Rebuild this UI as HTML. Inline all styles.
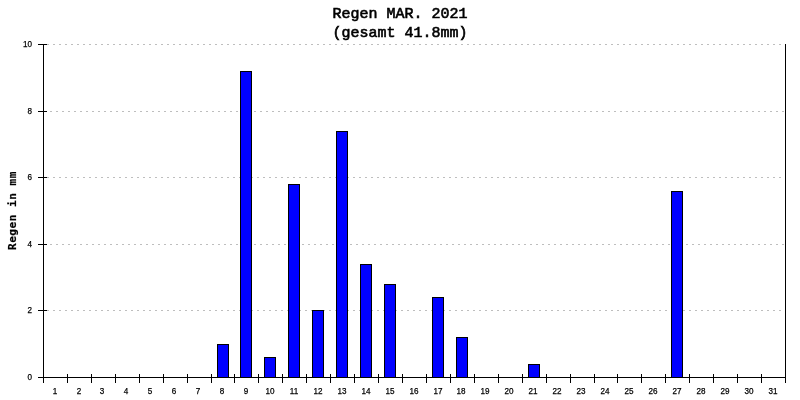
<!DOCTYPE html>
<html lang="de">
<head>
<meta charset="utf-8">
<title>Regen MAR. 2021</title>
<style>
html,body{margin:0;padding:0;background:#fff;}
body{width:800px;height:400px;position:relative;overflow:hidden;font-family:"Liberation Mono","DejaVu Sans Mono",monospace;color:#000;}
#chart{position:absolute;left:0;top:0;width:800px;height:400px;background:#fff;overflow:hidden;}
#chart div{position:absolute;}
.k{background:#000;}
.g{height:1px;background-image:repeating-linear-gradient(to right,#bebebe 0,#bebebe 2px,transparent 2px,transparent 6px);}
.b{background:#00f;border:1px solid #000;box-sizing:border-box;width:12px;}
.t{-webkit-text-stroke:0.6px #000;font-size:15px;line-height:19px;height:19px;white-space:pre;left:0;width:800px;text-align:center;}
.yl{transform:scaleX(0.9);transform-origin:100% 50%;-webkit-text-stroke:0.25px #000;font-family:"Liberation Sans",sans-serif;font-size:9px;line-height:8px;height:8px;width:30px;text-align:right;left:2.3px;white-space:pre;}
.xl{transform:scaleX(0.9);transform-origin:50% 50%;-webkit-text-stroke:0.25px #000;font-family:"Liberation Sans",sans-serif;font-size:9px;line-height:8px;height:8px;width:24px;text-align:center;white-space:pre;top:387px;}
.yt{font-family:"DejaVu Sans Mono","Liberation Mono",monospace;font-weight:bold;font-size:11.1px;letter-spacing:0.5px;-webkit-text-stroke:0.2px #000;line-height:13px;height:13px;width:120px;text-align:left;white-space:pre;transform-origin:0 0;transform:rotate(-90deg);}
</style>
</head>
<body>
<div id="chart">
<div class="t" style="top:5px;">Regen MAR. 2021</div>
<div class="t" style="top:24px;">(gesamt 41.8mm)</div>
<div class="g" style="left:47px;top:44px;width:738px;"></div>
<div class="g" style="left:50px;top:111px;width:735px;"></div>
<div class="g" style="left:47px;top:177px;width:738px;"></div>
<div class="g" style="left:50px;top:244px;width:735px;"></div>
<div class="g" style="left:47px;top:310px;width:738px;"></div>
<div class="b" style="left:217px;top:344px;height:34px;"></div>
<div class="b" style="left:240px;top:71px;height:307px;"></div>
<div class="b" style="left:264px;top:357px;height:21px;"></div>
<div class="b" style="left:288px;top:184px;height:194px;"></div>
<div class="b" style="left:312px;top:310px;height:68px;"></div>
<div class="b" style="left:336px;top:131px;height:247px;"></div>
<div class="b" style="left:360px;top:264px;height:114px;"></div>
<div class="b" style="left:384px;top:284px;height:94px;"></div>
<div class="b" style="left:432px;top:297px;height:81px;"></div>
<div class="b" style="left:456px;top:337px;height:41px;"></div>
<div class="b" style="left:528px;top:364px;height:14px;"></div>
<div class="b" style="left:671px;top:191px;height:187px;"></div>
<div class="k" style="left:43px;top:44px;width:1px;height:334px;"></div>
<div class="k" style="left:785px;top:44px;width:1px;height:334px;"></div>
<div class="k" style="left:43px;top:377px;width:743px;height:1px;"></div>
<div class="k" style="left:38px;top:44px;width:9px;height:1px;"></div>
<div class="yl" style="top:40px;">10</div>
<div class="k" style="left:38px;top:111px;width:9px;height:1px;"></div>
<div class="yl" style="top:107px;">8</div>
<div class="k" style="left:38px;top:177px;width:9px;height:1px;"></div>
<div class="yl" style="top:173px;">6</div>
<div class="k" style="left:38px;top:244px;width:9px;height:1px;"></div>
<div class="yl" style="top:240px;">4</div>
<div class="k" style="left:38px;top:310px;width:9px;height:1px;"></div>
<div class="yl" style="top:306px;">2</div>
<div class="k" style="left:38px;top:377px;width:9px;height:1px;"></div>
<div class="yl" style="top:373px;">0</div>
<div class="k" style="left:43px;top:374px;width:1px;height:9px;"></div>
<div class="k" style="left:67px;top:374px;width:1px;height:9px;"></div>
<div class="k" style="left:91px;top:374px;width:1px;height:9px;"></div>
<div class="k" style="left:115px;top:374px;width:1px;height:9px;"></div>
<div class="k" style="left:139px;top:374px;width:1px;height:9px;"></div>
<div class="k" style="left:163px;top:374px;width:1px;height:9px;"></div>
<div class="k" style="left:187px;top:374px;width:1px;height:9px;"></div>
<div class="k" style="left:211px;top:374px;width:1px;height:9px;"></div>
<div class="k" style="left:234px;top:374px;width:1px;height:9px;"></div>
<div class="k" style="left:258px;top:374px;width:1px;height:9px;"></div>
<div class="k" style="left:282px;top:374px;width:1px;height:9px;"></div>
<div class="k" style="left:306px;top:374px;width:1px;height:9px;"></div>
<div class="k" style="left:330px;top:374px;width:1px;height:9px;"></div>
<div class="k" style="left:354px;top:374px;width:1px;height:9px;"></div>
<div class="k" style="left:378px;top:374px;width:1px;height:9px;"></div>
<div class="k" style="left:402px;top:374px;width:1px;height:9px;"></div>
<div class="k" style="left:426px;top:374px;width:1px;height:9px;"></div>
<div class="k" style="left:450px;top:374px;width:1px;height:9px;"></div>
<div class="k" style="left:474px;top:374px;width:1px;height:9px;"></div>
<div class="k" style="left:498px;top:374px;width:1px;height:9px;"></div>
<div class="k" style="left:522px;top:374px;width:1px;height:9px;"></div>
<div class="k" style="left:546px;top:374px;width:1px;height:9px;"></div>
<div class="k" style="left:570px;top:374px;width:1px;height:9px;"></div>
<div class="k" style="left:594px;top:374px;width:1px;height:9px;"></div>
<div class="k" style="left:617px;top:374px;width:1px;height:9px;"></div>
<div class="k" style="left:641px;top:374px;width:1px;height:9px;"></div>
<div class="k" style="left:665px;top:374px;width:1px;height:9px;"></div>
<div class="k" style="left:689px;top:374px;width:1px;height:9px;"></div>
<div class="k" style="left:713px;top:374px;width:1px;height:9px;"></div>
<div class="k" style="left:737px;top:374px;width:1px;height:9px;"></div>
<div class="k" style="left:761px;top:374px;width:1px;height:9px;"></div>
<div class="k" style="left:785px;top:374px;width:1px;height:9px;"></div>
<div class="xl" style="left:42.57px;">1</div>
<div class="xl" style="left:66.50px;">2</div>
<div class="xl" style="left:90.44px;">3</div>
<div class="xl" style="left:114.37px;">4</div>
<div class="xl" style="left:138.31px;">5</div>
<div class="xl" style="left:162.25px;">6</div>
<div class="xl" style="left:186.18px;">7</div>
<div class="xl" style="left:210.12px;">8</div>
<div class="xl" style="left:234.05px;">9</div>
<div class="xl" style="left:257.99px;">10</div>
<div class="xl" style="left:281.92px;">11</div>
<div class="xl" style="left:305.86px;">12</div>
<div class="xl" style="left:329.79px;">13</div>
<div class="xl" style="left:353.73px;">14</div>
<div class="xl" style="left:377.66px;">15</div>
<div class="xl" style="left:401.60px;">16</div>
<div class="xl" style="left:425.54px;">17</div>
<div class="xl" style="left:449.47px;">18</div>
<div class="xl" style="left:473.41px;">19</div>
<div class="xl" style="left:497.34px;">20</div>
<div class="xl" style="left:521.28px;">21</div>
<div class="xl" style="left:545.21px;">22</div>
<div class="xl" style="left:569.15px;">23</div>
<div class="xl" style="left:593.08px;">24</div>
<div class="xl" style="left:617.02px;">25</div>
<div class="xl" style="left:640.95px;">26</div>
<div class="xl" style="left:664.89px;">27</div>
<div class="xl" style="left:688.83px;">28</div>
<div class="xl" style="left:712.76px;">29</div>
<div class="xl" style="left:736.70px;">30</div>
<div class="xl" style="left:760.63px;">31</div>
<div class="yt" style="left:6px;top:250.1px;">Regen in mm</div>
</div>
</body>
</html>
